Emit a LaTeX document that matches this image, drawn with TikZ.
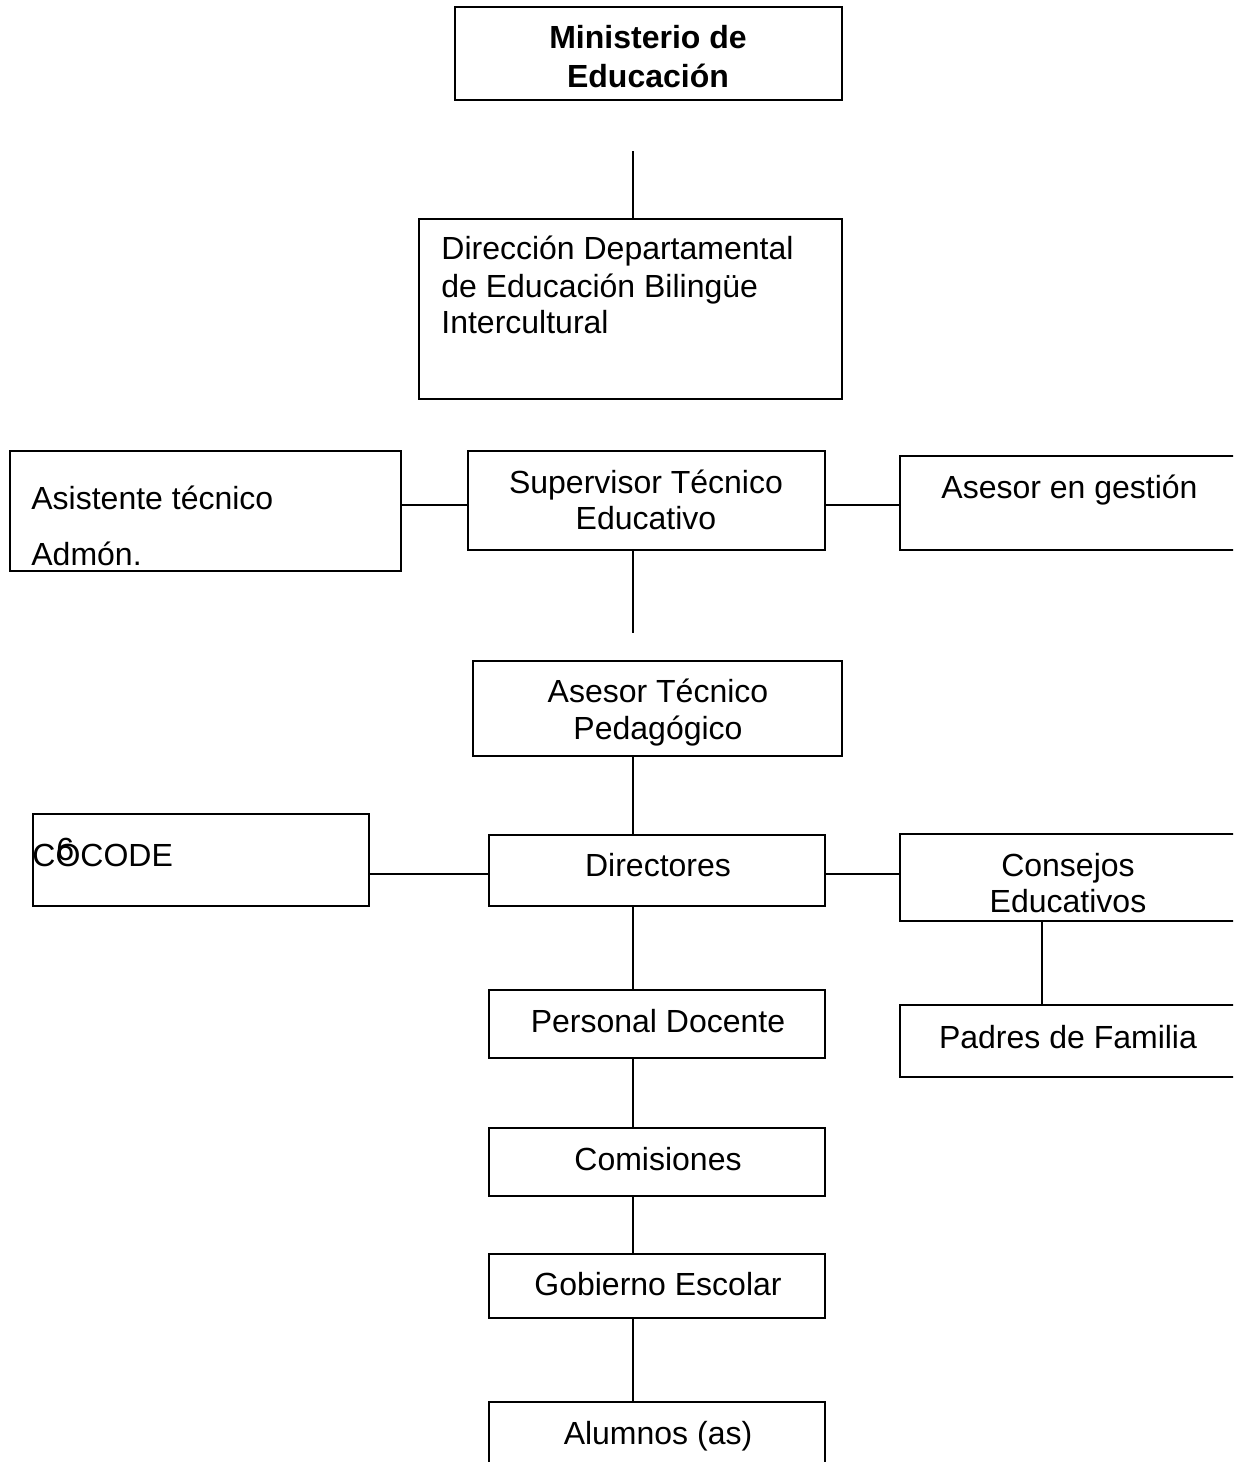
\documentclass[tikz,border=0pt]{standalone}
\usepackage{fontspec}
\setmainfont{Liberation Sans}
\usetikzlibrary{fit}
\begin{document}
\begin{tikzpicture}[x=0.5pt,y=-0.5pt,
  box/.style={draw,line width=1pt,inner sep=0pt,rectangle},
  conn/.style={line width=1pt},
  txt/.style={inner sep=0pt,font=\fontsize{16}{18.4}\selectfont},
  txtb/.style={txt,font=\fontsize{16}{18.4}\selectfont\bfseries}]
\useasboundingbox (0,0) rectangle (1233,1462);
\clip (0,0) rectangle (1233,1462);
% boxes
\node[box,fit={(455,7) (842,100)}] (min) {};
\node[box,fit={(419,219) (842,399)}] (dir) {};
\node[box,fit={(10,451) (401,571)}] (asis) {};
\node[box,fit={(468,451) (825,550)}] (sup) {};
\node[box,fit={(900,456) (1240,550)}] (gest) {};
\node[box,fit={(473,661) (842,756)}] (ase) {};
\node[box,fit={(33,814) (369,906)}] (coc) {};
\node[box,fit={(489,835) (825,906)}] (dire) {};
\node[box,fit={(900,834) (1240,921)}] (cons) {};
\node[box,fit={(900,1005) (1240,1077)}] (pad) {};
\node[box,fit={(489,990) (825,1058)}] (doc) {};
\node[box,fit={(489,1128) (825,1196)}] (com) {};
\node[box,fit={(489,1254) (825,1318)}] (gob) {};
\node[box,fit={(489,1402) (825,1475)}] (alu) {};
% texts
\node[txtb,anchor=base] (t1) at (648,48) {Ministerio de};
\node[txtb,anchor=base] (t2) at (648,87) {Educación};
\node[txt,anchor=base west] (t3) at (441,259) {Dirección Departamental};
\node[txt,anchor=base west] (t4) at (441,297) {de Educación Bilingüe};
\node[txt,anchor=base west] (t5) at (441,333) {Intercultural};
\node[txt,anchor=base west] (t6) at (31,509) {Asistente técnico};
\node[txt,anchor=base west] (t7) at (31,565) {Admón.};
\node[txt,anchor=base] (t8) at (646,493) {Supervisor Técnico};
\node[txt,anchor=base] (t9) at (646,529) {Educativo};
\node[txt,anchor=base west] (t10) at (941,498) {Asesor en gestión};
\node[txt,anchor=base] (t11) at (658,702) {Asesor Técnico};
\node[txt,anchor=base] (t12) at (658,739) {Pedagógico};
\node[txt,anchor=base west] (t13) at (32,866) {COCODE};
\node[txt,anchor=base west] (t14) at (56,860) {6};
\node[txt,anchor=base] (t15) at (658,876) {Directores};
\node[txt,anchor=base] (t16) at (1068,876) {Consejos};
\node[txt,anchor=base] (t17) at (1068,912) {Educativos};
\node[txt,anchor=base] (t18) at (1068,1048) {Padres de Familia};
\node[txt,anchor=base] (t19) at (658,1032) {Personal Docente};
\node[txt,anchor=base] (t20) at (658,1170) {Comisiones};
\node[txt,anchor=base] (t21) at (658,1295) {Gobierno Escolar};
\node[txt,anchor=base] (t22) at (658,1444) {Alumnos (as)};
% connector helpers
\coordinate (vx) at (633,0);
\coordinate (c1) at (633,151);
\coordinate (c2) at (633,633);
\coordinate (h1) at (0,505);
\coordinate (h2) at (0,874);
\coordinate (vr) at (1042,0);
% connectors
\draw[conn] (c1) -- (c1 |- dir.north);
\draw[conn] (asis.east |- h1) -- (sup.west |- h1);
\draw[conn] (sup.east |- h1) -- (gest.west |- h1);
\draw[conn] (sup.south -| vx) -- (c2);
\draw[conn] (ase.south -| vx) -- (dire.north -| vx);
\draw[conn] (coc.east |- h2) -- (dire.west |- h2);
\draw[conn] (dire.east |- h2) -- (cons.west |- h2);
\draw[conn] (cons.south -| vr) -- (pad.north -| vr);
\draw[conn] (dire.south -| vx) -- (doc.north -| vx);
\draw[conn] (doc.south -| vx) -- (com.north -| vx);
\draw[conn] (com.south -| vx) -- (gob.north -| vx);
\draw[conn] (gob.south -| vx) -- (alu.north -| vx);
\end{tikzpicture}
\end{document}
